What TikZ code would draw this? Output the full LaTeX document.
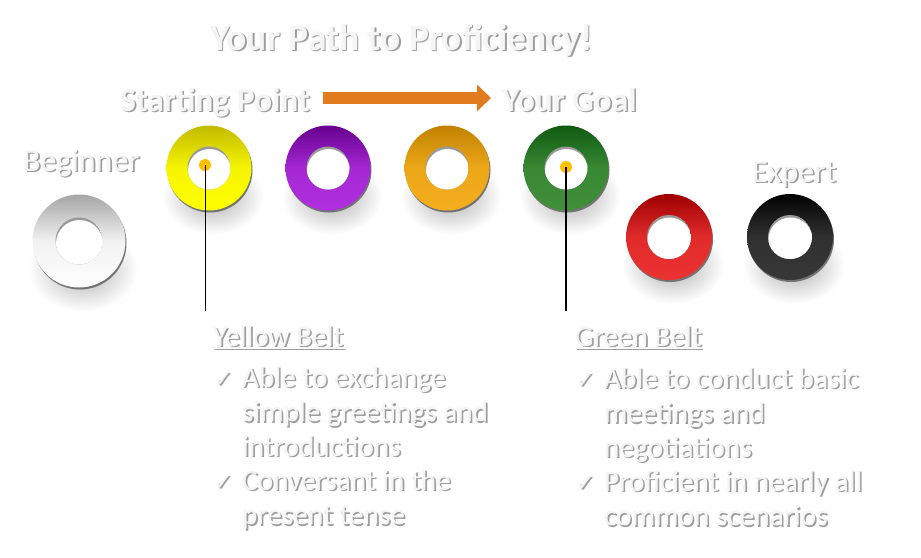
\documentclass[tikz,border=0pt]{standalone}
\usepackage{fontspec}
\setmainfont{Carlito}
\newfontfamily\symfont{DejaVu Sans}
\usetikzlibrary{positioning,calc,arrows.meta}
\definecolor{pathOrange}{HTML}{E07B1E}
\definecolor{dotGold}{HTML}{FFC000}
\definecolor{yelTop}{HTML}{C2BA00}
\definecolor{yelBot}{HTML}{FFFF00}
\definecolor{purTop}{HTML}{66008F}
\definecolor{purBot}{HTML}{B02EDF}
\definecolor{ornTop}{HTML}{C08200}
\definecolor{ornBot}{HTML}{F4AE1E}
\definecolor{grnTop}{HTML}{0E5A10}
\definecolor{grnBot}{HTML}{40903A}
\definecolor{redTop}{HTML}{9E0000}
\definecolor{redBot}{HTML}{EC3232}
\definecolor{blkTop}{HTML}{030303}
\definecolor{blkBot}{HTML}{383838}

% text with a soft shadow: name, options, position, text
\newcommand{\softlabel}[4]{%
  \node[#2, txtShadow] (#1-sh) at ($(#3)+(1.6,1.6)$) {#4};
  \node[#2, txt] (#1) at (#3) {#4};
}

\begin{document}
\begin{tikzpicture}[
    x=1pt, y=-1pt,
    txt/.style={text=black!4, inner sep=0pt},
    txtShadow/.style={text=black!38, inner sep=0pt},
    bigfont/.style={font=\fontsize{37.5}{40}\selectfont\bfseries},
    stepfont/.style={font=\fontsize{33.5}{36}\selectfont\bfseries},
    endfont/.style={font=\fontsize{32}{36}\selectfont},
    beltfont/.style={font=\fontsize{29.3}{34.5}\selectfont},
    tickfont/.style={font=\fontsize{24}{34.5}\selectfont\symfont},
    dot/.style={circle, fill=dotGold, minimum size=12pt, inner sep=0pt},
    prog/.style={pathOrange, line width=12pt, -{Triangle[length=14pt, width=26pt]}},
]
\useasboundingbox (0,0) rectangle (921,557);
% soft shadows under the belts
\foreach \nm/\x/\y/\r in {white/79/241/46.5, yellow/209/168/42.5, purple/328/168/42.5,
    orange/447/168/42.5, green/566/168/42.5, red/669/237/43, black/790/237/43} {
  \shade[inner color=black!32, outer color=white] (\x+4,\y+28) ellipse (\r pt+8pt and \r pt-4pt);
}
% the belts
\foreach \nm/\x/\y/\r/\ri/\ctop/\cbot in {white/79/241/46.5/23.5/black!35/white,
    yellow/209/168/42.5/21.5/yelTop/yelBot, purple/328/168/42.5/21.5/purTop/purBot,
    orange/447/168/42.5/21.5/ornTop/ornBot, green/566/168/42.5/21.5/grnTop/grnBot,
    red/669/237/43/22/redTop/redBot, black/790/237/43/22/blkTop/blkBot} {
  \coordinate (\nm) at (\x,\y);
  \fill[black!55] ($(\nm)+(1,2)$) circle (\r pt);
  \shade[top color=\ctop, bottom color=\cbot, middle color=\cbot!85!\ctop] (\nm) circle (\r pt);
  \begin{scope}
    \clip (\nm) circle (\ri pt);
    \fill[black!40] (\nm) circle (\ri pt);
    \fill[white] ($(\nm)+(0.5,2.5)$) circle (\ri pt);
  \end{scope}
}

% headings
\softlabel{title}{bigfont, anchor=base west}{210,50}{Your Path to Proficiency!}
\softlabel{start}{stepfont, anchor=base west}{120,111}{Starting Point}
\softlabel{goal}{stepfont, anchor=base west}{502,111}{Your Goal}
\softlabel{beginner}{endfont, anchor=base west}{23,171}{Beginner}
\softlabel{expert}{endfont, anchor=base west}{752,182}{Expert}
\coordinate (arrowline) at (0,98);
\draw[prog] ([xshift=13pt]start.east |- arrowline) -- ([xshift=-11pt]goal.west |- arrowline);

% markers on the two belts
\node[dot] (ydot) at (205,165) {};
\coordinate (yend) at (205,311);
\draw[black, line width=1pt] (ydot.center) -- (yend);
\node[dot] (gdot) at (566,167) {};
\coordinate (gend) at (566,311);
\draw[black, line width=2.4pt] (gdot.center) -- (gend);

% yellow belt notes
\softlabel{ybelt}{beltfont, anchor=base west}{213,346}{\underline{Yellow Belt}}
\softlabel{ytick1}{tickfont, anchor=base west}{213,387}{✓}
\softlabel{ytext1}{beltfont, anchor=base west, align=left}{242,456}{Able to exchange\\simple greetings and\\introductions}
\softlabel{ytick2}{tickfont, anchor=base west}{213,490}{✓}
\softlabel{ytext2}{beltfont, anchor=base west, align=left}{242,524.5}{Conversant in the\\present tense}

% green belt notes
\softlabel{gbelt}{beltfont, anchor=base west}{575,346}{\underline{Green Belt}}
\softlabel{gtick1}{tickfont, anchor=base west}{575,388}{✓}
\softlabel{gtext1}{beltfont, anchor=base west, align=left}{604,457}{Able to conduct basic\\meetings and\\negotiations}
\softlabel{gtick2}{tickfont, anchor=base west}{575,491}{✓}
\softlabel{gtext2}{beltfont, anchor=base west, align=left}{604,525.5}{Proficient in nearly all\\common scenarios}
\end{tikzpicture}
\end{document}
